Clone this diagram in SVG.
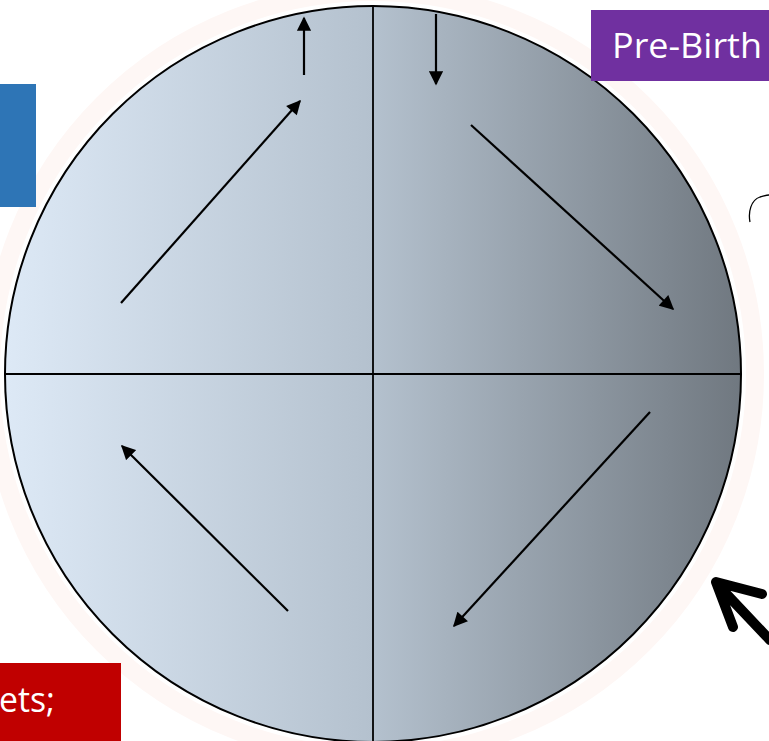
<svg xmlns="http://www.w3.org/2000/svg" width="769" height="741" viewBox="0 0 769 741">
<defs>
<linearGradient id="g" x1="0" y1="0" x2="1" y2="0">
<stop offset="0" stop-color="#dde9f6"/>
<stop offset="0.5" stop-color="#b4c1ce"/>
<stop offset="1" stop-color="#707880"/>
</linearGradient>
<marker id="ah" viewBox="0 0 10 10" refX="9" refY="5" markerWidth="7" markerHeight="6.5" orient="auto" markerUnits="strokeWidth">
<path d="M0,0 L10,5 L0,10 Z" fill="#000"/>
</marker>
<style>
.ar{stroke:#000;stroke-width:2.2;fill:none;marker-end:url(#ah)}
.ln{stroke:#000;stroke-width:1.8;fill:none}
.lbl{font-family:"Open Sans","Noto Sans",sans-serif;fill:#fff}
</style>
</defs>
<rect width="769" height="741" fill="#fff"/>
<circle cx="373" cy="374" r="382" fill="none" stroke="#fef7f5" stroke-width="18"/>
<g id="circle">
<circle cx="373" cy="374" r="368" fill="url(#g)" stroke="#000" stroke-width="2"/>
<line class="ln" x1="373" y1="6" x2="373" y2="742"/>
<line class="ln" x1="5" y1="374" x2="741" y2="374"/>
</g>
<g id="connectors">
<line class="ar" x1="304" y1="75" x2="304" y2="18"/>
<line class="ar" x1="436" y1="14" x2="436" y2="84"/>
<line class="ar" x1="121" y1="303" x2="300" y2="101"/>
<line class="ar" x1="471" y1="125" x2="673" y2="309"/>
<line class="ar" x1="650" y1="412" x2="454" y2="626"/>
<line class="ar" x1="288" y1="611" x2="122" y2="446"/>
<path d="M770,640 L717,584 M762,594 L716,582 L733,627" stroke="#000" stroke-width="10" stroke-linecap="round" stroke-linejoin="round" fill="none"/>
<path d="M750,222 C748,212 751,200 760,197 C764,196 767,195 769,195" stroke="#000" stroke-width="1.3" fill="none"/>
</g>
<g id="prebirth">
<rect x="591" y="10" width="180" height="71" fill="#7030a0"/>
<text class="lbl" x="612" y="58" font-size="34" textLength="150" lengthAdjust="spacingAndGlyphs">Pre-Birth</text>
</g>
<g id="bluebox">
<rect x="0" y="84" width="36" height="123" fill="#2e75b6"/>
</g>
<g id="redbox">
<rect x="0" y="663" width="121" height="80" fill="#c00000"/>
<text class="lbl" x="-1" y="712" font-size="34" textLength="56" lengthAdjust="spacingAndGlyphs">ets;</text>
</g>
</svg>
